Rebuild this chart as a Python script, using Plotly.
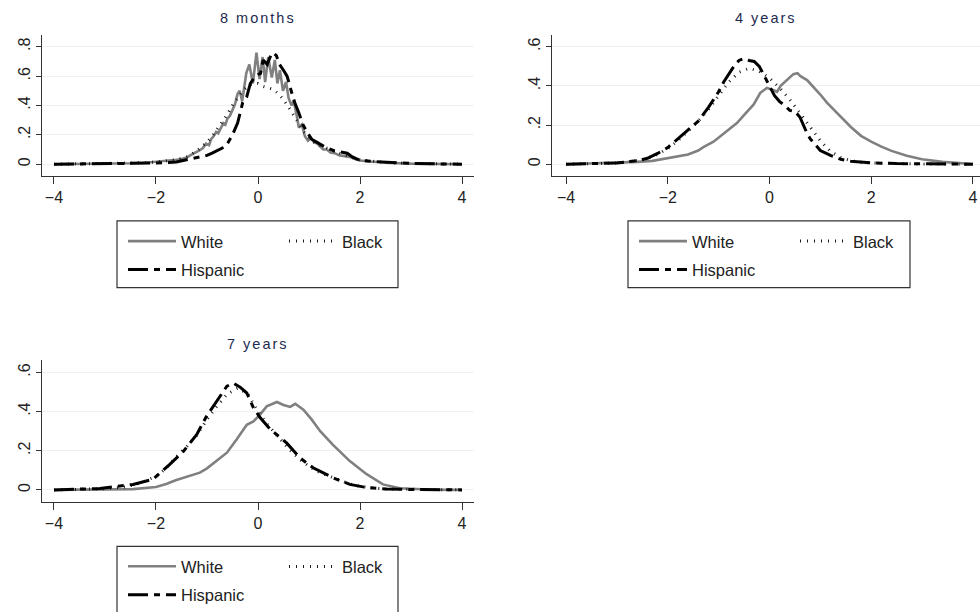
import plotly.graph_objects as go

FONT = "Liberation Sans, Arial, sans-serif"

# ---------------- 8 months: kernel densities of standardized scores ----------------
m8_white_x = [-4.0, -3.5, -3.0, -2.5, -2.2, -2.0, -1.8, -1.6, -1.5, -1.4, -1.33, -1.27, -1.2,
              -1.14, -1.08, -1.02, -0.96, -0.92, -0.87, -0.82, -0.78, -0.73, -0.68, -0.64, -0.6,
              -0.55, -0.5, -0.45, -0.4, -0.36, -0.31, -0.27, -0.23, -0.17, -0.1, -0.03, 0.03,
              0.09, 0.14, 0.2, 0.27, 0.33, 0.38, 0.43, 0.49, 0.55, 0.6, 0.66, 0.7, 0.76, 0.8,
              0.86, 0.92, 0.98, 1.04, 1.1, 1.16, 1.22, 1.28, 1.35, 1.42, 1.5, 1.6, 1.7, 1.8,
              1.9, 2.0, 2.2, 2.5, 3.0, 3.5, 4.0]
m8_white_y = [0.0, 0.001, 0.003, 0.006, 0.010, 0.015, 0.020, 0.030, 0.035, 0.045, 0.060, 0.070, 0.080,
              0.095, 0.110, 0.140, 0.130, 0.170, 0.190, 0.220, 0.210, 0.250, 0.280, 0.270, 0.310,
              0.330, 0.370, 0.410, 0.480, 0.500, 0.430, 0.530, 0.620, 0.680, 0.550, 0.760, 0.580,
              0.730, 0.560, 0.730, 0.590, 0.710, 0.550, 0.640, 0.500, 0.560, 0.450, 0.400, 0.430,
              0.330, 0.250, 0.270, 0.190, 0.160, 0.180, 0.150, 0.140, 0.120, 0.100, 0.100, 0.080,
              0.075, 0.060, 0.055, 0.050, 0.035, 0.025, 0.018, 0.010, 0.004, 0.002, 0.0]

m8_black_x = [-4.0, -3.0, -2.5, -2.0, -1.6, -1.4, -1.2, -1.0, -0.9, -0.8, -0.7, -0.6, -0.5, -0.4,
              -0.3, -0.2, -0.1, 0.0, 0.1, 0.2, 0.3, 0.4, 0.5, 0.6, 0.7, 0.8, 0.9, 1.0, 1.1, 1.2,
              1.4, 1.6, 1.8, 2.0, 2.3, 2.6, 3.0, 3.5, 4.0]
m8_black_y = [0.0, 0.003, 0.008, 0.015, 0.030, 0.050, 0.090, 0.150, 0.190, 0.240, 0.290, 0.340,
              0.400, 0.450, 0.500, 0.530, 0.550, 0.550, 0.530, 0.520, 0.510, 0.480, 0.440, 0.390,
              0.330, 0.270, 0.220, 0.180, 0.150, 0.130, 0.100, 0.075, 0.050, 0.030, 0.018, 0.010,
              0.005, 0.002, 0.0]

m8_hisp_x = [-4.0, -3.0, -2.5, -2.0, -1.6, -1.4, -1.2, -1.1, -1.0, -0.9, -0.8, -0.7, -0.6, -0.5,
             -0.4, -0.3, -0.22, -0.15, -0.05, 0.05, 0.1, 0.18, 0.25, 0.3, 0.36, 0.42, 0.5, 0.57,
             0.65, 0.72, 0.8, 0.88, 0.96, 1.05, 1.15, 1.3, 1.5, 1.65, 1.75, 1.85, 2.0, 2.3, 2.6,
             3.0, 3.5, 4.0]
m8_hisp_y = [0.0, 0.002, 0.004, 0.008, 0.015, 0.030, 0.045, 0.050, 0.060, 0.075, 0.090, 0.110,
             0.140, 0.200, 0.280, 0.420, 0.460, 0.550, 0.600, 0.620, 0.710, 0.680, 0.740, 0.760,
             0.740, 0.680, 0.640, 0.600, 0.500, 0.420, 0.350, 0.270, 0.220, 0.170, 0.150, 0.120,
             0.090, 0.080, 0.075, 0.050, 0.025, 0.018, 0.012, 0.005, 0.002, 0.0]

# ---------------- 4 years ----------------
y4_white_x = [-4.0, -3.5, -3.0, -2.6, -2.3, -2.0, -1.8, -1.6, -1.4, -1.3, -1.1, -0.96, -0.8,
              -0.64, -0.47, -0.31, -0.18, -0.05, 0.08, 0.15, 0.22, 0.35, 0.47, 0.55, 0.61, 0.74,
              0.87, 1.0, 1.13, 1.26, 1.4, 1.6, 1.8, 2.0, 2.2, 2.4, 2.7, 3.0, 3.4, 3.7, 4.0]
y4_white_y = [0.0, 0.003, 0.008, 0.012, 0.017, 0.030, 0.040, 0.050, 0.070, 0.087, 0.115, 0.144,
              0.175, 0.210, 0.260, 0.305, 0.365, 0.390, 0.378, 0.370, 0.400, 0.430, 0.460, 0.465,
              0.450, 0.430, 0.395, 0.356, 0.315, 0.280, 0.240, 0.190, 0.145, 0.115, 0.090, 0.068,
              0.043, 0.025, 0.012, 0.005, 0.001]

y4_black_x = [-4.0, -3.5, -3.0, -2.5, -2.2, -2.0, -1.8, -1.6, -1.4, -1.2, -1.0, -0.8, -0.6, -0.4,
              -0.2, 0.0, 0.2, 0.4, 0.6, 0.8, 1.0, 1.2, 1.4, 1.6, 1.8, 2.0, 2.5, 3.0, 4.0]
y4_black_y = [0.0, 0.002, 0.006, 0.022, 0.050, 0.080, 0.120, 0.170, 0.220, 0.280, 0.350, 0.420,
              0.470, 0.490, 0.475, 0.440, 0.390, 0.330, 0.260, 0.190, 0.120, 0.065, 0.035, 0.018,
              0.010, 0.006, 0.003, 0.001, 0.0]

y4_hisp_x = [-4.0, -3.5, -3.0, -2.8, -2.6, -2.4, -2.2, -2.0, -1.8, -1.6, -1.4, -1.2, -1.0, -0.9,
             -0.8, -0.7, -0.6, -0.5, -0.4, -0.3, -0.2, -0.1, 0.0, 0.1, 0.2, 0.3, 0.4, 0.5, 0.6,
             0.7, 0.8, 0.9, 1.0, 1.2, 1.4, 1.6, 1.8, 2.0, 2.5, 3.0, 3.5, 4.0]
y4_hisp_y = [0.0, 0.002, 0.006, 0.012, 0.018, 0.030, 0.055, 0.085, 0.130, 0.180, 0.220, 0.290,
             0.370, 0.420, 0.460, 0.500, 0.530, 0.540, 0.530, 0.525, 0.500, 0.450, 0.400, 0.350,
             0.320, 0.300, 0.275, 0.270, 0.240, 0.180, 0.130, 0.100, 0.070, 0.045, 0.025, 0.015,
             0.010, 0.007, 0.003, 0.002, 0.001, 0.0]

# ---------------- 7 years ----------------
y7_white_x = [-4.0, -3.5, -3.0, -2.45, -2.0, -1.8, -1.6, -1.4, -1.14, -1.0, -0.81, -0.61, -0.42,
              -0.22, -0.09, 0.04, 0.17, 0.27, 0.37, 0.5, 0.63, 0.73, 0.89, 1.05, 1.22, 1.47, 1.8,
              2.13, 2.45, 2.78, 3.1, 3.43, 4.0]
y7_white_y = [0.0, 0.001, 0.002, 0.004, 0.015, 0.030, 0.050, 0.068, 0.088, 0.110, 0.147, 0.190,
              0.257, 0.333, 0.350, 0.385, 0.427, 0.440, 0.449, 0.434, 0.424, 0.440, 0.410, 0.360,
              0.300, 0.230, 0.147, 0.080, 0.028, 0.008, 0.003, 0.001, 0.0]

y7_black_x = [-4.0, -3.5, -3.0, -2.6, -2.3, -2.0, -1.8, -1.6, -1.4, -1.2, -1.0, -0.8, -0.6, -0.4,
              -0.2, 0.0, 0.2, 0.4, 0.6, 0.8, 1.0, 1.2, 1.4, 1.6, 1.8, 2.0, 2.3, 2.6, 3.0, 4.0]
y7_black_y = [0.0, 0.002, 0.006, 0.015, 0.035, 0.070, 0.110, 0.170, 0.220, 0.280, 0.360, 0.430,
              0.490, 0.520, 0.490, 0.400, 0.330, 0.270, 0.210, 0.160, 0.120, 0.090, 0.070, 0.050,
              0.030, 0.018, 0.008, 0.004, 0.002, 0.0]

y7_hisp_x = [-4.0, -3.5, -3.1, -2.78, -2.45, -2.06, -1.73, -1.46, -1.2, -1.01, -0.81, -0.61,
             -0.48, -0.35, -0.22, -0.09, 0.04, 0.24, 0.56, 0.82, 1.08, 1.34, 1.47, 1.8, 2.13,
             2.5, 3.0, 4.0]
y7_hisp_y = [0.0, 0.003, 0.007, 0.017, 0.028, 0.054, 0.130, 0.198, 0.283, 0.376, 0.452, 0.530,
             0.545, 0.525, 0.495, 0.420, 0.370, 0.310, 0.240, 0.164, 0.113, 0.079, 0.062, 0.028,
             0.012, 0.005, 0.002, 0.0]

panel_titles = ["8 months", "4 years", "7 years"]
group_names = ["White", "Black", "Hispanic"]
y_ticks = [[0, 0.2, 0.4, 0.6, 0.8], [0, 0.2, 0.4, 0.6], [0, 0.2, 0.4, 0.6]]
y_tick_text = [["0", ".2", ".4", ".6", ".8"], ["0", ".2", ".4", ".6"], ["0", ".2", ".4", ".6"]]
x_ticks = [-4, -2, 0, 2, 4]

panels = [
    {"white": (m8_white_x, m8_white_y), "black": (m8_black_x, m8_black_y), "hisp": (m8_hisp_x, m8_hisp_y)},
    {"white": (y4_white_x, y4_white_y), "black": (y4_black_x, y4_black_y), "hisp": (y4_hisp_x, y4_hisp_y)},
    {"white": (y7_white_x, y7_white_y), "black": (y7_black_x, y7_black_y), "hisp": (y7_hisp_x, y7_hisp_y)},
]

W, H = 980, 612


def px_x(p):
    return p / W


def px_y(p):
    return 1 - p / H


# plot-area boxes in pixels: (left, right, top, bottom)
boxes = [(42, 474, 35, 177), (552, 980, 35, 177), (42, 474, 362, 504)]
title_rows = [18, 18, 346]
x_ranges = [[-4.235, 4.235], [-4.276, 4.14], [-4.235, 4.235]]
y_ranges = [[-0.0814, 0.8814], [-0.061, 0.661], [-0.0595, 0.6625]]
# legend boxes in pixels: (left, right, top, bottom)
legend_boxes = [(117, 398, 222, 289), (628, 910, 222, 289), (117, 398, 549, 616)]

line_styles = {
    "white": dict(color="#808080", width=2.6),
    "black": dict(color="#1a1a1a", width=3, dash="1px,6px"),
    "hisp": dict(color="#000000", width=3, dash="20px,6px,6px,6px"),
}
labels = {"white": "White", "black": "Black", "hisp": "Hispanic"}

fig = go.Figure()
layout = dict(
    width=W, height=H,
    margin=dict(l=0, r=0, t=0, b=0),
    paper_bgcolor="white", plot_bgcolor="white",
    font=dict(family=FONT, size=16, color="#222222"),
    annotations=[], shapes=[],
)

for i, panel in enumerate(panels):
    n = "" if i == 0 else str(i + 1)
    xa, ya = "x" + n, "y" + n
    leg_a = "legend" if i == 0 else "legend%d" % (2 * i + 1)
    leg_b = "legend%d" % (2 * i + 2)
    for key in ["white", "black", "hisp"]:
        xs, ys = panel[key]
        fig.add_trace(go.Scatter(
            x=xs, y=ys, mode="lines", name=labels[key], line=line_styles[key],
            xaxis=xa, yaxis=ya, legendgroup="%s_%d" % (key, i),
            legend=leg_b if key == "black" else leg_a,
            hoverinfo="skip",
        ))
    l, r, t, b = boxes[i]
    layout["xaxis" + n] = dict(
        domain=[px_x(l), px_x(r)], range=x_ranges[i], anchor=ya,
        tickvals=x_ticks, ticks="outside", ticklen=7, tickwidth=1.2, tickcolor="#333333",
        showline=True, linecolor="#333333", linewidth=1.2, showgrid=False, zeroline=False,
        tickfont=dict(size=16, color="#222222"), fixedrange=True,
    )
    layout["yaxis" + n] = dict(
        domain=[px_y(b), px_y(t)], range=y_ranges[i], anchor=xa,
        tickvals=y_ticks[i], ticktext=y_tick_text[i], tickangle=-90,
        ticks="outside", ticklen=5, tickwidth=1.2, tickcolor="#333333",
        showline=True, linecolor="#333333", linewidth=1.2,
        showgrid=True, gridcolor="#f0f0f0", gridwidth=1, zeroline=False,
        tickfont=dict(size=16, color="#222222"), fixedrange=True,
    )
    layout["annotations"].append(dict(
        text='<span style="letter-spacing:2px">%s</span>' % panel_titles[i],
        xref="paper", yref="paper", x=px_x((l + r) / 2), y=px_y(title_rows[i]),
        xanchor="center", yanchor="middle", showarrow=False,
        font=dict(family=FONT, size=14.5, color="#1e2b50"),
    ))
    lb_l, lb_r, lb_t, lb_b = legend_boxes[i]
    layout["shapes"].append(dict(
        type="rect", xref="paper", yref="paper",
        x0=px_x(lb_l), x1=px_x(lb_r), y0=px_y(lb_b), y1=px_y(lb_t),
        line=dict(color="#333333", width=1.2), fillcolor="rgba(0,0,0,0)",
    ))
    legend_common = dict(
        xanchor="left", yanchor="top", orientation="v",
        bgcolor="rgba(0,0,0,0)", borderwidth=0, itemwidth=48,
        font=dict(family=FONT, size=16.5, color="#222222"),
        tracegroupgap=4, itemclick=False, itemdoubleclick=False,
    )
    layout[leg_a] = dict(legend_common, x=px_x(lb_l + 6), y=px_y(lb_t + 3))
    layout[leg_b] = dict(legend_common, x=px_x(lb_l + 167), y=px_y(lb_t + 3))

fig.update_layout(**layout)
fig.write_html("out.html")
